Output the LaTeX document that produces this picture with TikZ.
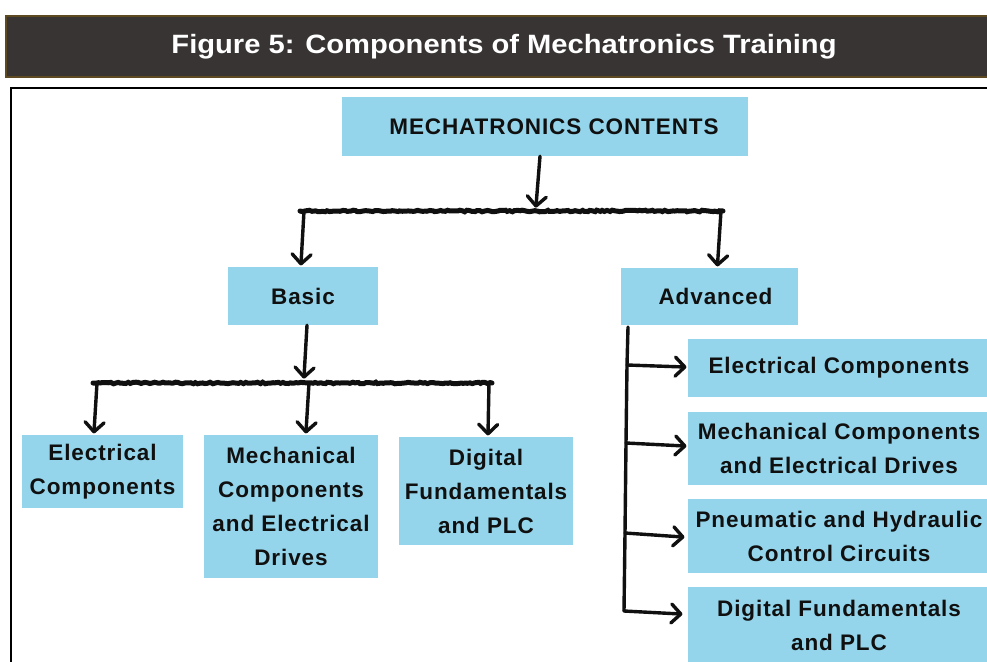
\documentclass[tikz,border=0pt]{standalone}
\usepackage{fontspec}
\setmainfont{Liberation Sans}
\newfontfamily\boxfont{Liberation Sans}[LetterSpace=4]
\usetikzlibrary{decorations.pathmorphing,decorations.markings}
\definecolor{boxblue}{HTML}{94D5EB}
\definecolor{bannerbg}{HTML}{393434}
\definecolor{bannerrim}{HTML}{5E4A22}
\definecolor{ink}{HTML}{101010}
\begin{document}
\begin{tikzpicture}[x=1pt,y=-1pt,
  box/.style={fill=boxblue, inner sep=0pt, align=center, text=ink,
    font=\boxfont\bfseries\fontsize{22.5}{34}\selectfont},
  % hand-drawn connector ending in an open chevron
  link/.style={ink, line width=3.4pt, line cap=round, line join=round,
    postaction={decorate, decoration={markings, mark=at position 1 with
      {\draw[ink, line width=3.4pt, line cap=round, line join=round]
         (-9.5pt,9.5pt) -- (0pt,0pt) -- (-9.5pt,-9.5pt);}}}},
  rail/.style={ink, line width=5pt, line cap=round, decorate,
    decoration={random steps, segment length=2.5pt, amplitude=0.8pt}},
  trunk/.style={ink, line width=3.4pt, line cap=round}]
\useasboundingbox (0,0) rectangle (987,661);
\clip (0,0) rectangle (987,661);
\fill[white] (0,0) rectangle (987,661);

% banner
\node[fill=bannerbg, draw=bannerrim, line width=1.6pt, inner sep=0pt,
      minimum width=996pt, minimum height=61pt, text=white,
      font=\bfseries\fontsize{26.5}{32}\selectfont]
  (banner) at (504,46.5) {\scalebox{1.1}[1]{Figure 5: Components of Mechatronics Training}};

% frame
\draw[line width=2.5pt] (11,700) |- (1000,88);

% boxes
\node[box, minimum width=406pt, minimum height=59pt] (top) at (545,126.5) {\hspace*{18pt}MECHATRONICS CONTENTS};
\node[box, minimum width=150pt, minimum height=58pt] (basic) at (303,296) {Basic};
\node[box, minimum width=177pt, minimum height=57pt] (adv) at (709.5,296.5) {\hspace*{12pt}Advanced};

\node[box, minimum width=161pt, minimum height=73pt] (b1) at (102.5,471.5) {Electrical\\Components};
\node[box, minimum width=174pt, minimum height=143pt] (b2) at (291,506.5) {Mechanical\\Components\\and Electrical\\Drives};
\node[box, minimum width=174pt, minimum height=108pt] (b3) at (486,491) {Digital\\Fundamentals\\and PLC};

\node[box, minimum width=302pt, minimum height=58pt] (a1) at (839,368) {Electrical Components};
\node[box, minimum width=302pt, minimum height=73pt] (a2) at (839,448.5) {Mechanical Components\\and Electrical Drives};
\node[box, minimum width=302pt, minimum height=74pt] (a3) at (839,536) {Pneumatic and Hydraulic\\Control Circuits};
\node[box, minimum width=302pt, minimum height=76pt] (a4) at (839,625) {Digital Fundamentals\\and PLC};

% top level split
\coordinate (r1L) at (300,211);
\coordinate (r1M) at (536,206);
\coordinate (r1R) at (723,211);
\draw[link] ([xshift=-5pt]top.south) -- (r1M);
\draw[rail] (r1L) -- (r1R);
\draw[link] ([xshift=4pt]r1L) -- ([xshift=-2pt,yshift=3pt]basic.north);
\draw[link] ([xshift=-2pt]r1R) -- ([xshift=8pt,yshift=3pt]adv.north);

% basic split
\coordinate (r2L) at (93,383);
\coordinate (r2M) at (304,377);
\coordinate (r2R) at (492,383);
\draw[link] ([xshift=4pt]basic.south) -- (r2M);
\draw[rail] (r2L) -- (r2R);
\draw[link] ([xshift=4pt]r2L) -- ([xshift=-8.5pt,yshift=3pt]b1.north);
\draw[link] (309,383) -- ([xshift=15pt,yshift=3pt]b2.north);
\draw[link] ([xshift=-3pt]r2R) -- ([xshift=2pt,yshift=3pt]b3.north);

% advanced branch
\coordinate (t0) at (628,327);
\coordinate (t1) at (627,365);
\coordinate (t2) at (626,443);
\coordinate (t3) at (625,533);
\coordinate (t4) at (624,611);
\draw[trunk] (t0) -- (t1) -- (t2) -- (t3) -- (t4);
\draw[link] (t1) -- ([xshift=-3pt,yshift=1pt]a1.west);
\draw[link] (t2) -- ([xshift=-3pt,yshift=2.5pt]a2.west);
\draw[link] (t3) -- ([xshift=-5pt,yshift=-1pt]a3.west);
\draw[link] (t4) -- ([xshift=-7pt,yshift=11pt]a4.west);
\end{tikzpicture}
\end{document}
